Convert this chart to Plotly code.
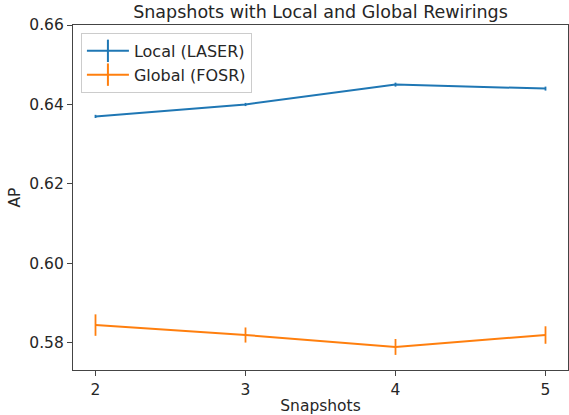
import plotly.graph_objects as go

snapshots = [2, 3, 4, 5]
local_ap = [0.637, 0.640, 0.645, 0.644]
local_err = [0.0004, 0.0004, 0.0005, 0.0005]
global_ap = [0.5845, 0.5820, 0.5790, 0.5820]
global_err = [0.0027, 0.0019, 0.0020, 0.0022]

font = "DejaVu Sans"
txt = "#262626"
spine = "#444444"

fig = go.Figure()
series = [("Local (LASER)", local_ap, local_err, "#1f77b4"),
          ("Global (FOSR)", global_ap, global_err, "#ff7f0e")]
for name, y, e, c in series:
    fig.add_trace(go.Scatter(
        x=snapshots, y=y, name=name, mode="lines", showlegend=False,
        line=dict(color=c, width=2),
        error_y=dict(type="data", array=e, visible=True, color=c, thickness=1.8, width=0),
    ))
# legend entries with a "+" glyph like matplotlib's errorbar legend handle
for name, y, e, c in series:
    fig.add_trace(go.Scatter(
        x=[None], y=[None], name=name, mode="lines+markers",
        line=dict(color=c, width=2),
        marker=dict(symbol="line-ns-open", size=16, color=c, line=dict(color=c, width=2)),
    ))

axis_common = dict(
    showgrid=False, zeroline=False, showline=True, linecolor=spine, linewidth=1.2,
    mirror=True, ticks="outside", ticklen=5, tickcolor=spine, tickwidth=1.2,
    automargin=False,
    tickfont=dict(family=font, size=15.5, color=txt),
)
fig.update_layout(
    width=569, height=415, autosize=False,
    margin=dict(l=73, r=1, t=25, b=45),
    paper_bgcolor="white", plot_bgcolor="white",
    title=dict(text="Snapshots with Local and Global Rewirings", x=0.5633, xanchor="center",
               xref="container",
               y=0.971, yanchor="middle",
               font=dict(family=font, size=17.5, color=txt)),
    xaxis=dict(range=[1.85, 5.15], tickvals=snapshots, ticktext=[str(s) for s in snapshots],
               title=dict(text="Snapshots", font=dict(family=font, size=15.5, color=txt), standoff=6),
               **axis_common),
    yaxis=dict(range=[0.5732, 0.66], tickvals=[0.58, 0.60, 0.62, 0.64, 0.66],
               ticktext=["0.58", "0.60", "0.62", "0.64", "0.66"],
               title=dict(text="AP", font=dict(family=font, size=15.5, color=txt), standoff=4),
               **axis_common),
    legend=dict(x=0.016, y=0.977, xanchor="left", yanchor="top",
                bgcolor="rgba(255,255,255,0.8)", bordercolor="#cccccc", borderwidth=1,
                tracegroupgap=0, itemwidth=42,
                font=dict(family=font, size=16, color=txt)),
    showlegend=True,
)
post = ("document.body.style.margin='0';document.body.style.padding='0';"
        "var gd=document.getElementById('{plot_id}');"
        "Plotly.relayout(gd,{width:569,height:415});")
fig.write_html("out.html", post_script=post,
               config={"responsive": False, "displayModeBar": False})
